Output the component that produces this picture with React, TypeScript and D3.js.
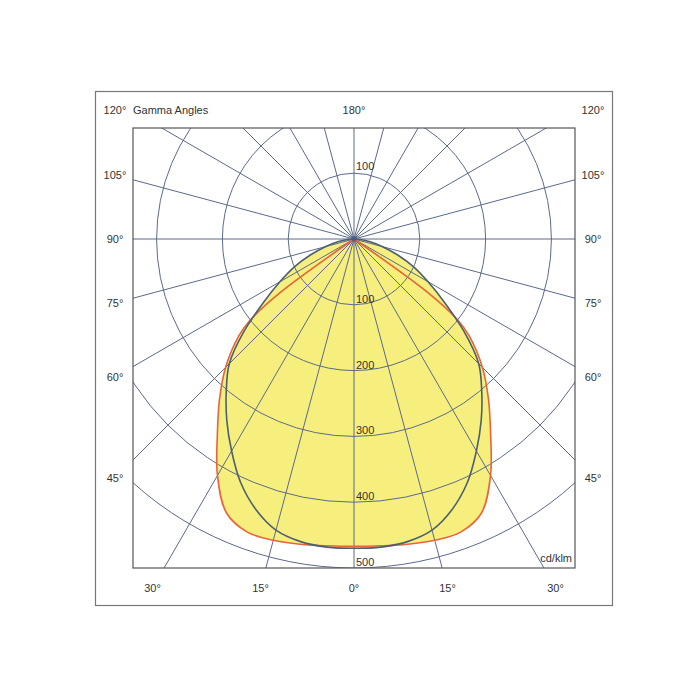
import React from "react";
import * as d3 from "d3";

// Polar angles (gamma, degrees from nadir) and luminous intensity (cd/klm)
const darkGamma = [0, 5, 10, 15, 20, 25, 30, 35, 40, 45, 50, 55, 60, 65, 70, 75, 80, 85, 90];
const darkValues = [470, 470, 467, 458, 437, 408, 372, 337, 302, 268, 218, 168, 130, 100, 70, 45, 25, 10, 0];

const orangeGamma = [0, 5, 10, 15, 20, 25, 30, 35, 40, 45, 50, 52, 54, 56];
const orangeValues = [467, 468, 471, 474, 474, 459, 415, 362, 318, 276, 228, 200, 140, 0];

const ringValues = [100, 200, 300, 400, 500];
const spokeAngles = d3.range(0, 360, 15);
const sideLabels = [45, 60, 75, 90, 105, 120];
const bottomLabels = [-30, -15, 0, 15, 30];

const W = 700;
const cx = 354;
const cy = 239;
const box = { x0: 133, y0: 128, x1: 575, y1: 568 };
const outer = { x0: 95.5, y0: 91.5, x1: 612.5, y1: 605.5 };
const labelHalfW = 239;
const labelBottom = 588;
const labelTop = 110;

const r = d3.scaleLinear().domain([0, 500]).range([0, 329]);
const toRad = (deg: number) => (deg * Math.PI) / 180;

function buildPath(gammas: number[], values: number[]) {
  // signed gamma: negative = left, positive = right
  const pts: [number, number][] = [];
  const left: [number, number][] = [];
  for (let i = gammas.length - 1; i >= 0; i--) left.push([-gammas[i], values[i]]);
  const right: [number, number][] = [];
  for (let i = 1; i < gammas.length; i++) right.push([gammas[i], values[i]]);
  const all = left.concat(right);
  // remove duplicate zero points at ends
  let start = 0;
  while (start + 1 < all.length && all[start][1] === 0 && all[start + 1][1] === 0) start++;
  let end = all.length - 1;
  while (end - 1 > 0 && all[end][1] === 0 && all[end - 1][1] === 0) end--;
  for (let i = start; i <= end; i++) pts.push(all[i]);
  const line = d3
    .lineRadial<[number, number]>()
    .angle((d) => Math.PI - toRad(d[0]))
    .radius((d) => r(d[1]))
    .curve(d3.curveCatmullRom.alpha(0.5));
  return line(pts) + "Z";
}

export default function App() {
  const darkPath = buildPath(darkGamma, darkValues);
  const orangePath = buildPath(orangeGamma, orangeValues);
  const font = "'Liberation Sans', Arial, sans-serif";
  const textColor = "#333";
  const gridColor = "#5b6a8a";
  const rayLen = 800;

  return (
    <div>
      <svg
        width={W}
        height={W}
        viewBox={`0 0 ${W} ${W}`}
        style={{ position: "absolute", left: 0, top: 0, background: "#fff" }}
        fontFamily={font}
      >
        <defs>
          <clipPath id="plotClip">
            <rect x={box.x0} y={box.y0} width={box.x1 - box.x0} height={box.y1 - box.y0} />
          </clipPath>
        </defs>
        <rect x={0} y={0} width={W} height={W} fill="#fff" />
        <rect
          x={outer.x0}
          y={outer.y0}
          width={outer.x1 - outer.x0}
          height={outer.y1 - outer.y0}
          fill="none"
          stroke="#777"
          strokeWidth={1.2}
        />
        <g clipPath="url(#plotClip)">
          <g transform={`translate(${cx},${cy})`}>
            <path d={orangePath} fill="#f6ef7e" stroke="none" />
            <path d={darkPath} fill="#f6ef7e" stroke="none" />
            {ringValues.map((v) => (
              <circle key={v} r={r(v)} fill="none" stroke={gridColor} strokeWidth={1} />
            ))}
            {spokeAngles.map((a) => (
              <line
                key={a}
                x1={0}
                y1={0}
                x2={rayLen * Math.sin(toRad(a))}
                y2={rayLen * Math.cos(toRad(a))}
                stroke={gridColor}
                strokeWidth={1}
              />
            ))}
            <path d={orangePath} fill="none" stroke="#e8643a" strokeWidth={1.6} />
            <path d={darkPath} fill="none" stroke="#4e6070" strokeWidth={1.6} />
            <circle r={2.5} fill="#3f5a8a" opacity={0.7} />
          </g>
        </g>
        <rect
          x={box.x0}
          y={box.y0}
          width={box.x1 - box.x0}
          height={box.y1 - box.y0}
          fill="none"
          stroke="#555"
          strokeWidth={1.2}
        />
        {/* ring labels */}
        <text x={cx + 2} y={cy - r(100) - 3} fontSize={11} fill={textColor}>
          100
        </text>
        {ringValues.map((v) => (
          <text key={v} x={cx + 2} y={cy + r(v) - 2} fontSize={11} fill={textColor}>
            {v}
          </text>
        ))}
        {/* side angle labels */}
        {sideLabels.map((g) =>
          [-1, 1].map((s) => {
            const y = Math.max(labelTop, cy + (labelHalfW * Math.cos(toRad(g))) / Math.sin(toRad(g)));
            return (
              <text
                key={`${g}_${s}`}
                x={cx + s * labelHalfW}
                y={y}
                fontSize={11}
                fill={textColor}
                textAnchor="middle"
                dominantBaseline="central"
              >
                {g}°
              </text>
            );
          })
        )}
        {bottomLabels.map((g) => (
          <text
            key={g}
            x={cx + (labelBottom - cy) * Math.tan(toRad(g))}
            y={labelBottom}
            fontSize={11}
            fill={textColor}
            textAnchor="middle"
            dominantBaseline="central"
          >
            {Math.abs(g)}°
          </text>
        ))}
        <text x={cx} y={labelTop} fontSize={11} fill={textColor} textAnchor="middle" dominantBaseline="central">
          180°
        </text>
        <text x={box.x0} y={labelTop} fontSize={11} fill={textColor} dominantBaseline="central">
          Gamma Angles
        </text>
        <text x={box.x1 - 3} y={box.y1 - 6} fontSize={11} fill={textColor} textAnchor="end">
          cd/klm
        </text>
      </svg>
    </div>
  );
}
